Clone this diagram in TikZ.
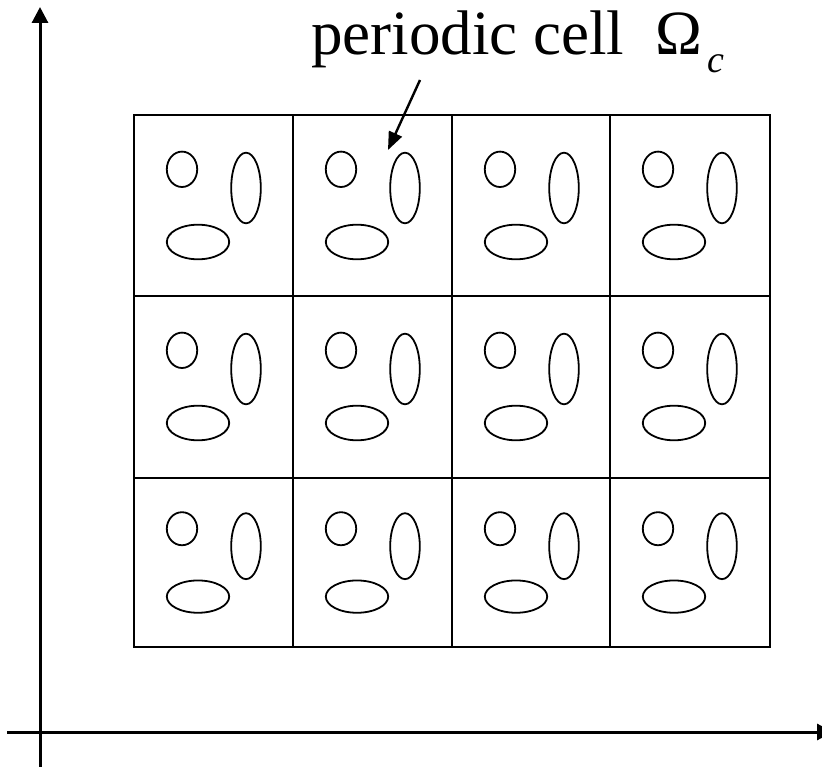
\documentclass[tikz,border=0pt]{standalone}
\usepackage{fontspec}
\setmainfont{Liberation Serif}
\usetikzlibrary{arrows.meta}
\begin{document}
\begin{tikzpicture}[x=1pt,y=-1pt,
  axis/.style={line width=3pt,-{Triangle[width=16pt,length=16pt]}},
  gridline/.style={line width=2pt},
  hole/.style={line width=1.8pt},
  pointer/.style={line width=2.4pt,-{Triangle[width=14pt,length=18pt]}},
  labeltext/.style={anchor=base west,inner sep=0pt,font=\fontsize{63}{63}\selectfont}]
\useasboundingbox (0,0) rectangle (822,767);
\clip (0,0) rectangle (822,767);
% axes
\coordinate (yb) at (40,790);
\coordinate (yt) at (40,7);
\coordinate (xl) at (7,732);
\coordinate (xr) at (833,732);
\draw[axis] (yb) -- (yt);
\draw[axis] (xl) -- (xr);
% grid of periodic cells
\draw[gridline] (134,115) rectangle (770,647);
\foreach \gx in {293,452,610} \draw[gridline] (\gx,115) -- (\gx,647);
\foreach \gy in {296,478} \draw[gridline] (134,\gy) -- (770,\gy);
% inclusions in each cell
\foreach \cx in {134,293,452,610} {
  \foreach \cy/\s in {115/1,296/1,478/0.934} {
    \draw[hole] (\cx+48,\cy+54.3*\s) ellipse [x radius=15.2pt, y radius={\s*17.7pt}];
    \draw[hole] (\cx+112,\cy+73*\s) ellipse [x radius=14.8pt, y radius={\s*35.3pt}];
    \draw[hole] (\cx+64,\cy+127*\s) ellipse [x radius=31.2pt, y radius={\s*17.3pt}];
  }
}
% label
\node[labeltext] (lbl) at (311,55) {periodic cell\hspace{31pt}Ω\hspace{5pt}\raisebox{-18pt}{\fontsize{38}{38}\selectfont\itshape c}};
\coordinate (ptail) at (420,80);
\coordinate (ptip) at (388,150);
\draw[pointer] (ptail) -- (ptip);
\end{tikzpicture}
\end{document}
